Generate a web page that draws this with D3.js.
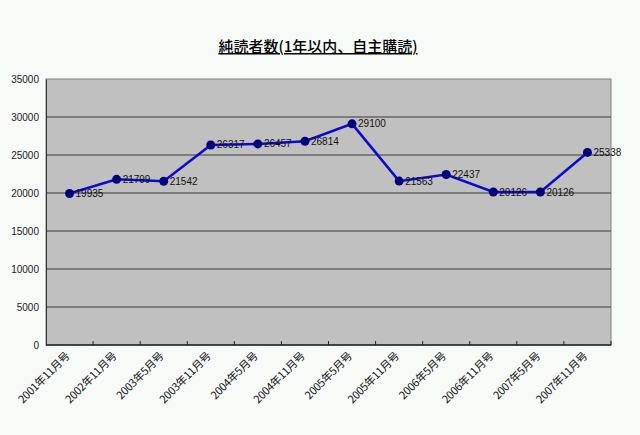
<!DOCTYPE html>
<html>
<head>
    <meta charset="utf-8" />
    <script src="https://d3js.org/d3.v7.min.js"></script>
    <style>
        body { margin: 0; background: #f7fbf8; }
        svg { display: block; }
    </style>
</head>
<body>
    <svg id="chart" width="640" height="435"></svg>
    <script>
        // data
        var issues = ["2001年11月号", "2002年11月号", "2003年5月号", "2003年11月号",
            "2004年5月号", "2004年11月号", "2005年5月号", "2005年11月号",
            "2006年5月号", "2006年11月号", "2007年5月号", "2007年11月号"];
        var readers = [19935, 21799, 21542, 26317, 26457, 26814, 29100, 21563, 22437, 20126, 20126, 25338];
        var yTicks = [0, 5000, 10000, 15000, 20000, 25000, 30000, 35000];

        var margin = { top: 79, right: 29, bottom: 90, left: 46 };
        var width = 640 - margin.left - margin.right;
        var height = 435 - margin.top - margin.bottom;
        var font = "'Noto Sans CJK JP', sans-serif";

        var svg = d3.select("#chart");

        // title
        svg.append("text")
            .attr("x", 318)
            .attr("y", 52)
            .attr("text-anchor", "middle")
            .style("font-family", font)
            .style("font-size", "15px")
            .style("font-weight", "500")
            .style("text-decoration", "underline")
            .text("純読者数(1年以内、自主購読)");

        var g = svg.append("g")
            .attr("transform", "translate(" + margin.left + "," + margin.top + ")");

        var x = d3.scaleBand().domain(issues).range([0, width]);
        var y = d3.scaleLinear().domain([0, 35000]).range([height, 0]);

        // plot area
        g.append("rect")
            .attr("width", width)
            .attr("height", height)
            .attr("fill", "#c0c0c0")
            .attr("stroke", "#808080");

        // grid lines
        g.selectAll(".grid")
            .data(yTicks.slice(1, -1))
            .enter().append("line")
            .attr("x1", 0)
            .attr("x2", width)
            .attr("y1", d => y(d))
            .attr("y2", d => y(d))
            .attr("stroke", "#3a3a3a")
            .attr("stroke-width", 1);

        // y axis
        var yAxis = g.append("g")
            .call(d3.axisLeft(y).tickValues(yTicks).tickFormat(d3.format("d")).tickSize(0).tickPadding(7));
        yAxis.select(".domain").attr("stroke", "#333");
        yAxis.selectAll("text")
            .style("font-family", "'Liberation Sans', sans-serif")
            .style("font-size", "10px")
            .attr("fill", "#222");

        // x axis, ticks on band edges
        g.append("line")
            .attr("x1", 0).attr("x2", width)
            .attr("y1", height).attr("y2", height)
            .attr("stroke", "#222").attr("stroke-width", 1.5);
        g.selectAll(".xtick")
            .data(issues)
            .enter().append("line")
            .attr("x1", d => x(d) + x.bandwidth())
            .attr("x2", d => x(d) + x.bandwidth())
            .attr("y1", height)
            .attr("y2", height - 4)
            .attr("stroke", "#222");

        g.selectAll(".xlabel")
            .data(issues)
            .enter().append("text")
            .attr("transform", d => "translate(" + (x(d) + x.bandwidth() / 2 - 2) + "," + (height + 9) + ") rotate(-45)")
            .attr("text-anchor", "end")
            .attr("dy", "0.35em")
            .style("font-family", font)
            .style("font-size", "11px")
            .style("letter-spacing", "-0.3px")
            .attr("fill", "#111")
            .text(d => d);

        // line
        var line = d3.line()
            .x((d, i) => x(issues[i]) + x.bandwidth() / 2)
            .y(d => y(d));

        g.append("path")
            .datum(readers)
            .attr("d", line)
            .attr("fill", "none")
            .attr("stroke", "#0a0ad0")
            .attr("stroke-width", 2.5);

        g.selectAll(".dot")
            .data(readers)
            .enter().append("circle")
            .attr("cx", (d, i) => x(issues[i]) + x.bandwidth() / 2)
            .attr("cy", d => y(d))
            .attr("r", 4.5)
            .attr("fill", "#00007a");

        // data labels
        g.selectAll(".val")
            .data(readers)
            .enter().append("text")
            .attr("x", (d, i) => x(issues[i]) + x.bandwidth() / 2 + 6)
            .attr("y", d => y(d))
            .attr("dy", "0.35em")
            .style("font-family", "'Liberation Sans', sans-serif")
            .style("font-size", "10px")
            .attr("fill", "#111")
            .text(d => d);
    </script>
</body>
</html>
